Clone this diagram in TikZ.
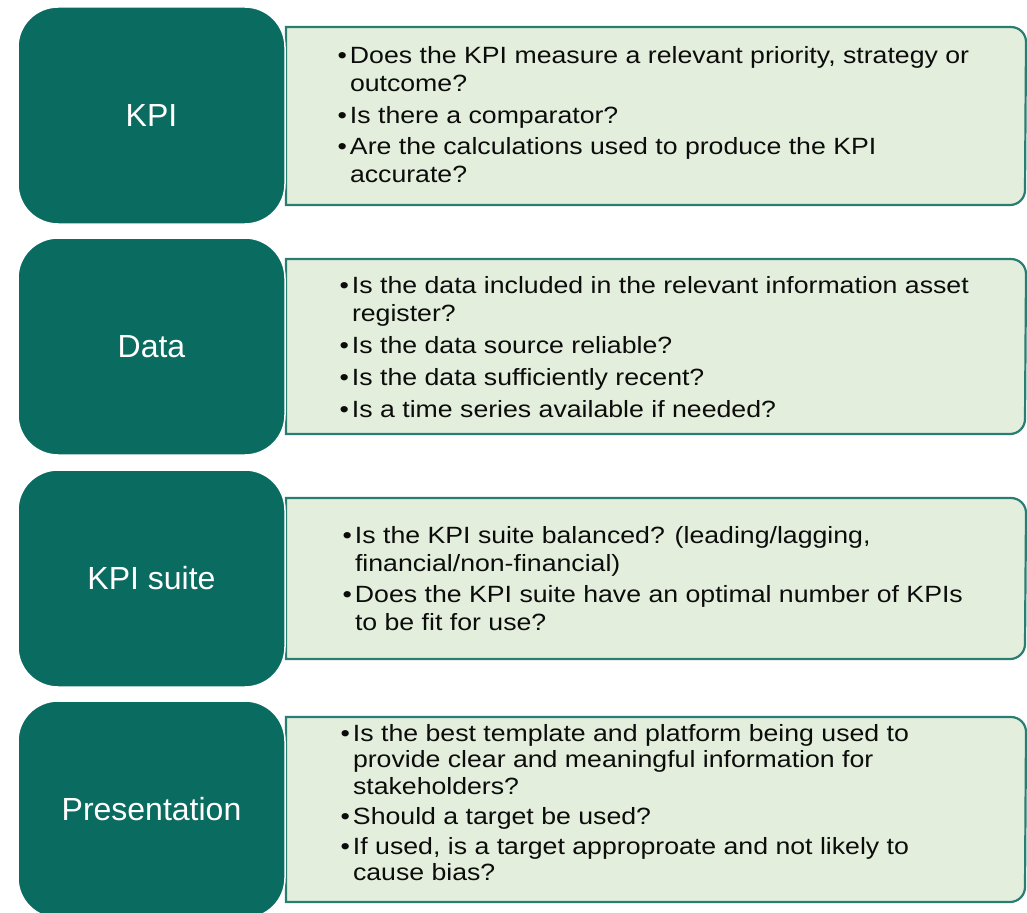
\documentclass[tikz,border=0pt]{standalone}
\usepackage{fontspec}
\setmainfont{Liberation Sans}
\newfontfamily\bodyfont[FakeStretch=1.135]{Liberation Sans}
\definecolor{darkteal}{RGB}{10,107,96}
\definecolor{edgeteal}{RGB}{42,125,113}
\definecolor{lightgreen}{RGB}{227,239,220}
\definecolor{textblack}{RGB}{12,12,12}
\newcommand{\bl}{\makebox[12.5pt][l]{\textbullet}}
\newcommand{\ind}{\hspace*{12.5pt}}
\newcommand{\lbox}[2]{\draw[lightbox] (286,#1) -- (1011,#1) arc(-90:0:15) -- (1025,{#2-15}) arc(0:90:15) -- (286,#2) -- cycle;}
\begin{document}
\begin{tikzpicture}[x=1pt,y=-1pt,
  lightbox/.style={draw=edgeteal, line width=2.2pt, fill=lightgreen},
  darkbox/.style={draw=white, line width=1.5pt, fill=darkteal, rounded corners=40pt,
    minimum width=267pt, minimum height=217pt, inner sep=0pt, outer sep=0pt,
    text=white, font=\fontsize{32}{38}\selectfont},
  bullets/.style={anchor=base west, inner sep=0pt, outer sep=0pt, text=textblack}]
\useasboundingbox (0,0) rectangle (1027,912);
\clip (0,0) rectangle (1027,912);
\fill[white] (0,0) rectangle (1027,912);

% light panels
\lbox{27}{205}
\lbox{259}{434}
\lbox{498}{659}
\lbox{717}{902}

% dark label boxes
\node[darkbox] (kpi) at (151.5,115.5) {KPI};
\node[darkbox] (data) at (151.5,346.5) {Data};
\node[darkbox] (suite) at (151.5,578.5) {KPI suite};
\node[darkbox] (pres) at (151.5,809.5) {Presentation};

% bullet texts
\node[bullets] (t1) at (337.5,64) {\parbox[t]{680pt}{\bodyfont\fontsize{23.5}{28}\selectfont
\bl Does the KPI measure a relevant priority, strategy or\\
\ind outcome?\\[3.5pt]
\bl Is there a comparator?\\[3.5pt]
\bl Are the calculations used to produce the KPI\\
\ind accurate?}};

\node[bullets] (t2) at (339.5,293) {\parbox[t]{680pt}{\bodyfont\fontsize{23.5}{28}\selectfont
\bl Is the data included in the relevant information asset\\
\ind register?\\[4pt]
\bl Is the data source reliable?\\[4pt]
\bl Is the data sufficiently recent?\\[4pt]
\bl Is a time series available if needed?}};

\node[bullets] (t3) at (342.5,543) {\parbox[t]{680pt}{\bodyfont\fontsize{23.5}{28}\selectfont
\bl Is the KPI suite balanced? (leading/lagging,\\
\ind financial/non-financial)\\[3pt]
\bl Does the KPI suite have an optimal number of KPIs\\
\ind to be fit for use?}};

\node[bullets] (t4) at (340.5,741) {\parbox[t]{680pt}{\bodyfont\fontsize{23.5}{26.5}\selectfont
\bl Is the best template and platform being used to\\
\ind provide clear and meaningful information for\\
\ind stakeholders?\\[3.5pt]
\bl Should a target be used?\\[3.5pt]
\bl If used, is a target approproate and not likely to\\
\ind cause bias?}};
\end{tikzpicture}
\end{document}
